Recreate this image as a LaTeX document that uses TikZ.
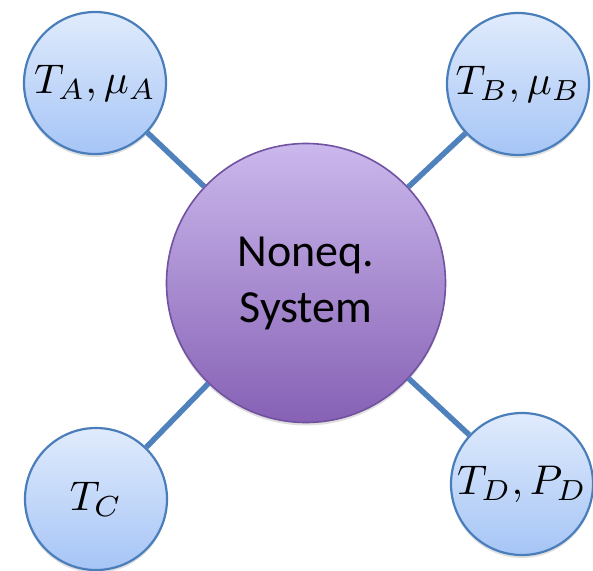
\documentclass[tikz,border=0pt]{standalone}
\usepackage{graphicx}
\usepackage{fontspec}
\newfontfamily\calib{Carlito}
\usetikzlibrary{shadows}
\definecolor{bordblue}{RGB}{74,126,187}
\definecolor{linkblue}{RGB}{79,129,189}
\definecolor{ltop}{RGB}{224,235,252}
\definecolor{lbot}{RGB}{166,197,246}
\definecolor{ptop}{RGB}{203,184,236}
\definecolor{pbot}{RGB}{134,97,181}
\definecolor{pbord}{RGB}{112,82,160}
\newcommand{\hugemath}[1]{\scalebox{4.15}{$#1$}}
\tikzset{
  bath/.style={circle, draw=bordblue, line width=2.2pt, minimum size=142pt, inner sep=0pt,
    top color=ltop, bottom color=lbot,
    drop shadow={opacity=0.25, shadow xshift=0pt, shadow yshift=-3pt}},
  sys/.style={circle, draw=pbord, line width=1.6pt, minimum size=279pt, inner sep=0pt,
    top color=ptop, bottom color=pbot, align=center,
    drop shadow={opacity=0.25, shadow xshift=0pt, shadow yshift=-3pt},
    font=\calib\fontsize{46}{56}\selectfont},
  link/.style={draw=linkblue, line width=5.5pt}
}
\begin{document}
\begin{tikzpicture}[x=1pt,y=-1pt]
\useasboundingbox (0,0) rectangle (593,570);
\node[sys] (S) at (306,283) {Noneq.\\System};
\node[bath] (A) at (95,83) {\hugemath{T_A,\mu_A}};
\node[bath] (B) at (518,84) {\hugemath{T_B,\mu_B}};
\node[bath] (C) at (96,499) {\hugemath{T_C}};
\node[bath] (D) at (522,484) {\hugemath{T_D,P_D}};
\draw[link] (A) -- (S);
\draw[link] (B) -- (S);
\draw[link] (C) -- (S);
\draw[link] (D) -- (S);
\end{tikzpicture}
\end{document}
